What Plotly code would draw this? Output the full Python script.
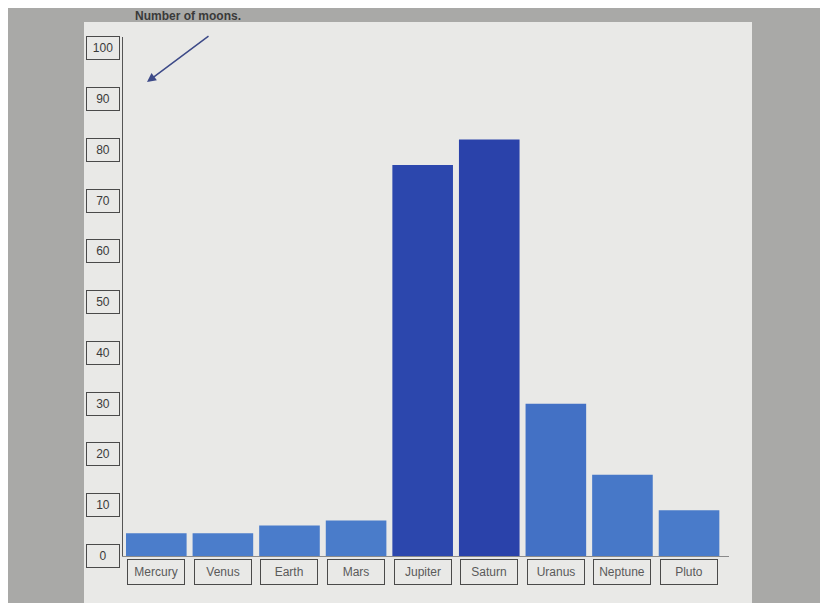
import plotly.graph_objects as go

planets = ["Mercury", "Venus", "Earth", "Mars", "Jupiter", "Saturn", "Uranus", "Neptune", "Pluto"]
moons = [4.5, 4.5, 6, 7, 77, 82, 30, 16, 9]
y_ticks = [0, 10, 20, 30, 40, 50, 60, 70, 80, 90, 100]
title_text = "Number of moons."

OFF = 8  # page body margin
W, H = 828 - OFF, 603 - OFF
L, T = 123 - OFF, 37 - OFF
R, B = 99, 47
pw, ph = W - L - R, H - T - B

def px(x):
    return (x - OFF - L) / pw

def py(y):
    return (H - B - (y - OFF)) / ph

fig = go.Figure()
fig.add_trace(go.Bar(
    x=planets, y=moons,
    marker=dict(color=moons, colorscale=[[0, "#4c7fcc"], [0.4, "#4270c4"], [1, "#2a42aa"]],
                cmin=0, cmax=82, line=dict(width=0)),
    hoverinfo="x+y",
))

annotations = []
for v in y_ticks:
    annotations.append(dict(
        x=0, xref="paper", y=v, yref="y", xanchor="right", xshift=-3,
        text=str(v), showarrow=False, font=dict(size=12, color="#3a3a3a", family="Liberation Sans"),
        bordercolor="#4a4a4a", borderwidth=1, width=30, height=20, bgcolor="rgba(0,0,0,0)",
    ))
for p in planets:
    annotations.append(dict(
        x=p, xref="x", y=0, yref="y", yanchor="top", yshift=-3,
        text=p, showarrow=False, font=dict(size=12, color="#5a5a5a", family="Liberation Sans"),
        bordercolor="#4a4a4a", borderwidth=1, width=54, height=22, bgcolor="rgba(0,0,0,0)",
    ))
annotations.append(dict(
    x=px(133), xref="paper", y=py(16), yref="paper", xanchor="left", yanchor="middle",
    text="<b>" + title_text + "</b>", showarrow=False,
    font=dict(size=12, color="#3a3a3a", family="Liberation Sans"),
))
annotations.append(dict(
    x=px(147), xref="paper", y=py(82), yref="paper", text="", showarrow=True,
    ax=63, ay=-47, arrowhead=2, arrowsize=1.2, arrowwidth=1.5, arrowcolor="#3d4a88",
))

shapes = [
    dict(type="rect", xref="paper", yref="paper", x0=px(84), x1=px(752), y0=py(610), y1=py(22),
         fillcolor="#e9e9e7", line=dict(width=0), layer="below"),
]

fig.update_layout(
    width=W, height=H,
    margin=dict(l=L, r=R, t=T, b=B),
    paper_bgcolor="#a9a9a7",
    plot_bgcolor="rgba(0,0,0,0)",
    bargap=0.09,
    showlegend=False,
    annotations=annotations,
    shapes=shapes,
    xaxis=dict(showticklabels=False, showgrid=False, zeroline=False, showline=True,
               linecolor="#8a8a8a", linewidth=1, ticks="", range=[-0.5, 8.6]),
    yaxis=dict(range=[0, 102.2], showticklabels=False, showgrid=False, zeroline=False,
               showline=True, linecolor="#555", linewidth=1, ticks=""),
    font=dict(family="Liberation Sans"),
)

fig.write_html("out.html")
